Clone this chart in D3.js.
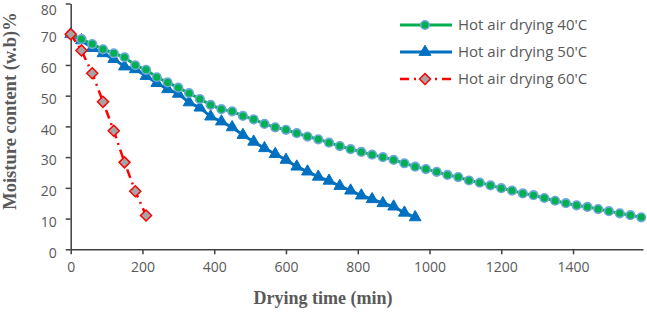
<!DOCTYPE html>
<html>
<head>
<meta charset="utf-8">
<script src="https://cdn.jsdelivr.net/npm/d3@7"></script>
<style>
  html, body { margin: 0; padding: 0; background: #fff; }
  svg { display: block; }
</style>
</head>
<body>
<svg id="chart" width="647" height="313"></svg>
<script>
// ---- data ----
const time40 = [0,30,60,90,120,150,180,210,240,270,300,330,360,390,420,450,480,510,540,570,600,630,660,690,720,750,780,810,840,870,900,930,960,990,1020,1050,1080,1110,1140,1170,1200,1230,1260,1290,1320,1350,1380,1410,1440,1470,1500,1530,1560,1590];
const moisture40 = [70.0,68.4,66.8,65.1,63.8,62.5,59.9,58.4,56.0,54.3,52.6,50.8,48.9,47.0,45.6,44.9,43.4,42.3,40.8,39.7,38.9,37.8,36.7,35.8,34.7,33.6,32.6,31.7,30.8,30.0,29.1,28.0,26.9,26.1,25.2,24.2,23.5,22.4,21.7,20.8,19.9,19.1,18.2,17.6,16.7,15.8,15.0,14.3,13.8,13.1,12.4,11.7,11.1,10.4];
const time50 = [0,30,60,90,120,150,180,210,240,270,300,330,360,390,420,450,480,510,540,570,600,630,660,690,720,750,780,810,840,870,900,930,960];
const moisture50 = [70.0,68.0,65.5,63.8,61.9,59.5,58.6,56.4,54.1,52.1,50.6,47.8,46.1,43.2,41.6,39.7,37.2,35.0,32.9,31.0,29.1,26.9,25.3,23.6,22.3,20.6,19.1,17.5,16.3,15.0,13.9,11.9,10.4];
const time60 = [0,30,60,90,120,150,180,210];
const moisture60 = [70.0,64.7,57.3,48.0,38.6,28.3,18.9,11.0];
const seriesNames = ["Hot air drying 40'C", "Hot air drying 50'C", "Hot air drying 60'C"];
const xTicks = [0,200,400,600,800,1000,1200,1400];
const yTicks = [0,10,20,30,40,50,60,70,80];
const xTitle = "Drying time (min)";
const yTitle = "Moisture content (w.b)%";

// ---- layout ----
const svg = d3.select("#chart");
const x = d3.scaleLinear().domain([0, 1595]).range([70.7, 643]);
const y = d3.scaleLinear().domain([0, 80]).range([249.3, 3.5]);
const axisColor = "#404040";
const textColor = "#595959";

// axes
const gx = svg.append("g").attr("transform", `translate(0,${y(0)})`)
  .call(d3.axisBottom(x).tickValues(xTicks).tickFormat(d3.format("d"))
    .tickSize(5).tickPadding(8).tickSizeOuter(0));
const gy = svg.append("g").attr("transform", `translate(${x(0)},0)`)
  .call(d3.axisLeft(y).tickValues(yTicks).tickFormat(d3.format("d"))
    .tickSize(5).tickPadding(9).tickSizeOuter(0));
[gx, gy].forEach(g => {
  g.select(".domain").attr("stroke", axisColor).attr("stroke-width", 1.5);
  g.selectAll(".tick line").attr("stroke", axisColor).attr("stroke-width", 1.5);
  g.selectAll(".tick text").attr("fill", textColor)
    .style("font-family", "'Open Sans', sans-serif").style("font-size", "14px");
});
gy.selectAll(".tick text").attr("dy", d => d === 80 ? "0.78em" : "0.55em");

// titles
svg.append("text").attr("x", 323).attr("y", 304).attr("text-anchor", "middle")
  .attr("fill", textColor).style("font-family", "'Liberation Serif', serif")
  .style("font-weight", "bold").style("font-size", "18px").text(xTitle);
svg.append("text").attr("transform", "translate(16,111) rotate(-90)").attr("text-anchor", "middle")
  .attr("fill", textColor).style("font-family", "'Liberation Serif', serif")
  .style("font-weight", "bold").style("font-size", "18.5px").text(yTitle);

const line = d3.line().x(d => x(d[0])).y(d => y(d[1]));
const d40 = time40.map((t, i) => [t, moisture40[i]]);
const d50 = time50.map((t, i) => [t, moisture50[i]]);
const d60 = time60.map((t, i) => [t, moisture60[i]]);

const green = "#00B050", blue = "#0070C0", red = "#FF0000";
const triPath = d3.symbol().type(d3.symbolTriangle).size(60)();
const diaPath = "M0,-5.5L5.5,0L0,5.5L-5.5,0Z";

function drawCircle(g, cx, cy) {
  g.append("circle").attr("cx", cx).attr("cy", cy).attr("r", 4.3)
    .attr("fill", green).attr("stroke", "#6FA8DC").attr("stroke-width", 1.6);
}
function drawTri(g, cx, cy) {
  g.append("path").attr("d", triPath).attr("transform", `translate(${cx},${cy})`)
    .attr("fill", blue).attr("stroke", blue).attr("stroke-width", 1);
}
function drawDia(g, cx, cy) {
  g.append("path").attr("d", diaPath).attr("transform", `translate(${cx},${cy})`)
    .attr("fill", "#A5A5A5").attr("stroke", red).attr("stroke-width", 1.5);
}

// series 50 (blue)
const s50 = svg.append("g");
s50.append("path").datum(d50).attr("d", line).attr("fill", "none")
  .attr("stroke", blue).attr("stroke-width", 3);
d50.forEach(d => drawTri(s50, x(d[0]), y(d[1])));

// series 40 (green)
const s40 = svg.append("g");
s40.append("path").datum(d40).attr("d", line).attr("fill", "none")
  .attr("stroke", green).attr("stroke-width", 3);
d40.forEach(d => drawCircle(s40, x(d[0]), y(d[1])));

// series 60 (red)
const s60 = svg.append("g");
s60.append("path").datum(d60).attr("d", line).attr("fill", "none")
  .attr("stroke", red).attr("stroke-width", 2.5).attr("stroke-dasharray", "9,5,2,5");
d60.forEach(d => drawDia(s60, x(d[0]), y(d[1])));

// legend
const legRows = [25, 52, 79];
const leg = svg.append("g");
const styles = [
  {c: green, dash: null, w: 3, m: drawCircle},
  {c: blue, dash: null, w: 3, m: drawTri},
  {c: red, dash: "9,5,2,5", w: 2.5, m: drawDia}
];
seriesNames.forEach((name, i) => {
  const ly = legRows[i];
  const st = styles[i];
  const l = leg.append("line").attr("x1", 400).attr("x2", 452).attr("y1", ly).attr("y2", ly)
    .attr("stroke", st.c).attr("stroke-width", st.w);
  if (st.dash) l.attr("stroke-dasharray", st.dash);
  st.m(leg, 425, ly);
  leg.append("text").attr("x", 458).attr("y", ly).attr("dy", "0.35em")
    .attr("fill", textColor).style("font-family", "'Open Sans', sans-serif")
    .style("font-size", "15px").text(name);
});
</script>
</body>
</html>
